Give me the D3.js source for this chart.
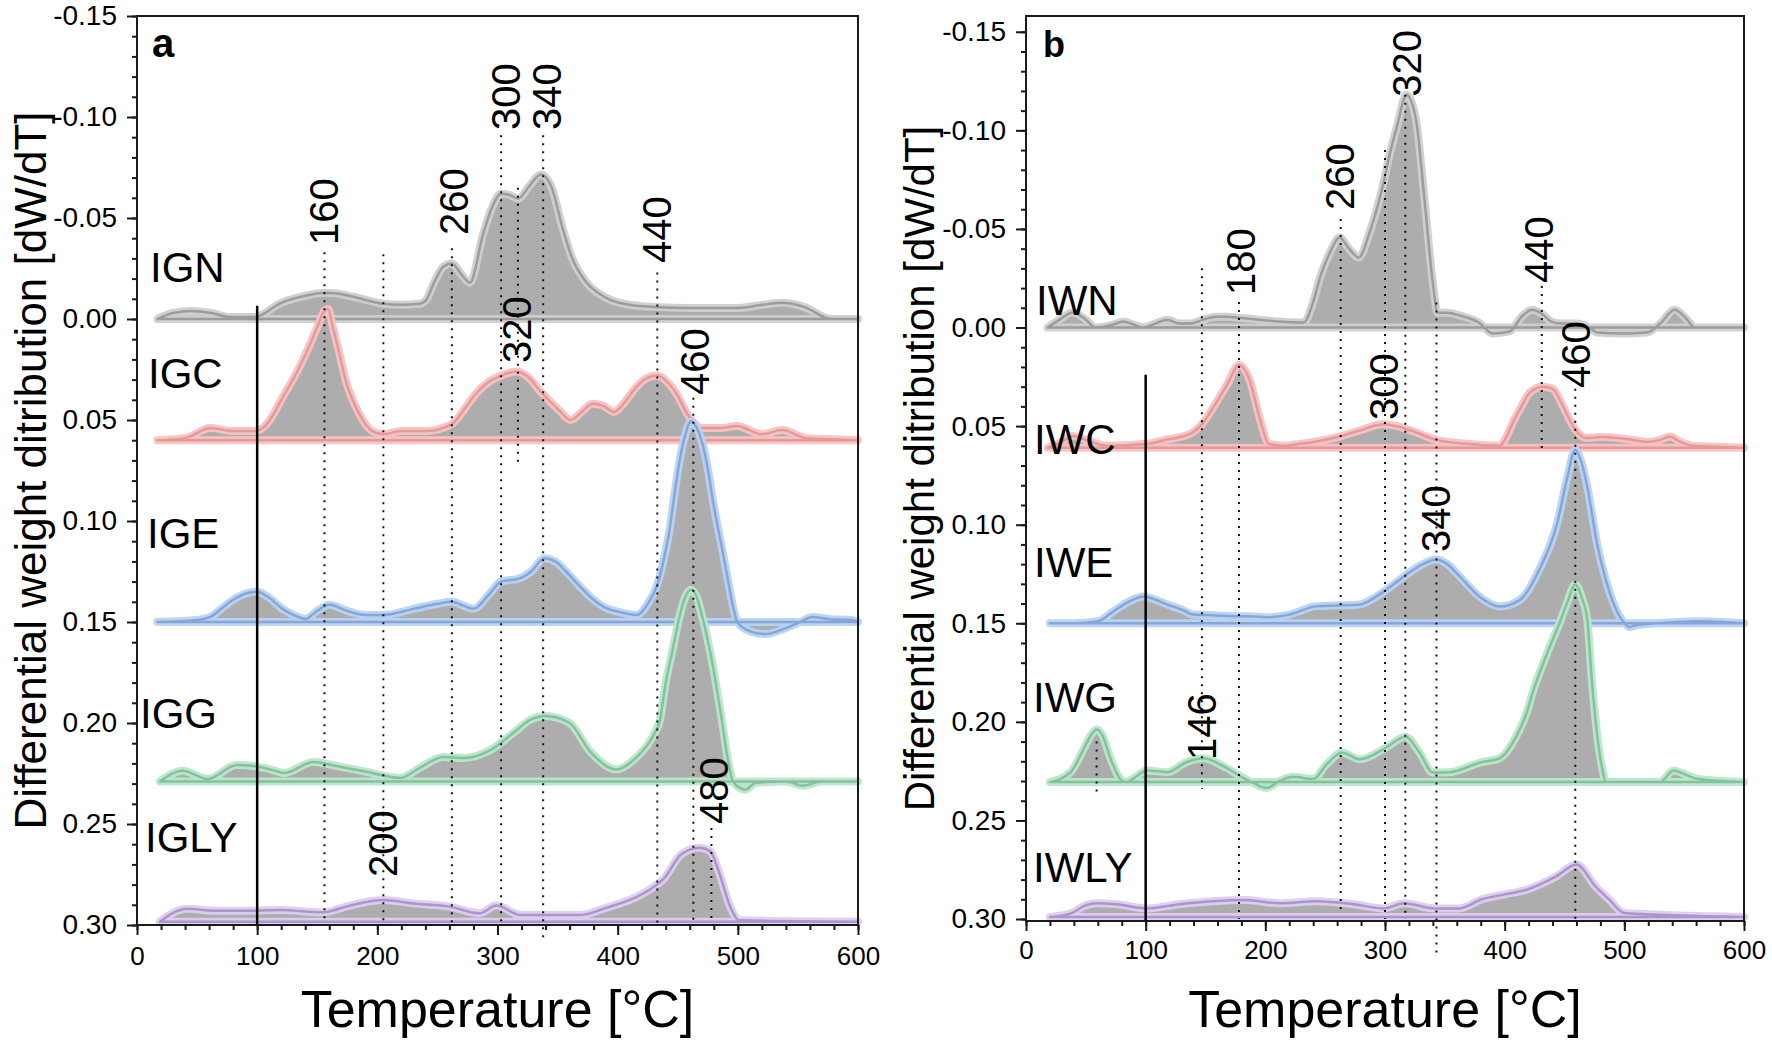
<!DOCTYPE html>
<html>
<head>
<meta charset="utf-8">
<script src="https://cdn.jsdelivr.net/npm/d3@7"></script>
<style>
  body { margin: 0; background: #fff; }
  svg { display: block; }
  text { font-family: "Liberation Sans", Arial, sans-serif; fill: #000; }
</style>
</head>
<body>
<svg id="chart" width="1772" height="1049"></svg>
<script>
// ---------------- DATA ----------------
// Axis ticks
const xTickValues = [0, 100, 200, 300, 400, 500, 600];
const xTickLabels = ["0", "100", "200", "300", "400", "500", "600"];
const yTickValues = [-0.15, -0.10, -0.05, 0.00, 0.05, 0.10, 0.15, 0.20, 0.25, 0.30];
const yTickLabels = ["-0.15", "-0.10", "-0.05", "0.00", "0.05", "0.10", "0.15", "0.20", "0.25", "0.30"];

// Panel a series (temperature in °C, y-axis reading in dW/dT incl. offset)
const seriesNamesA = ["IGN", "IGC", "IGE", "IGG", "IGLY"];
const baselinesA = [0, 0.06, 0.15, 0.229, 0.2984];

const tempIGN = [17,30,45,62,77,98,120,140,156,165,180,205,220,235,240,248,255,262,270,277,288,295,303,310,317,327,336,345,354,362,373,390,407,430,460,500,520,537,555,578,600];
const valIGN  = [0,-0.003,-0.004,-0.003,-0.001,-0.001,-0.008,-0.0115,-0.013,-0.0128,-0.011,-0.0075,-0.007,-0.0075,-0.009,-0.019,-0.026,-0.0275,-0.022,-0.018,-0.042,-0.0546,-0.062,-0.0614,-0.0596,-0.0662,-0.0715,-0.0652,-0.0454,-0.0303,-0.0189,-0.0106,-0.0073,-0.006,-0.0055,-0.0055,-0.007,-0.008,-0.006,0,0];

const tempIGC = [17,40,61,80,98,108,121,135,144,150,156,159,163,168,174,185,196,205,220,240,262,272,282,293,303,316,326,336,351,361,370,379,388,397,406,415,425,433,441,449,458,470,485,499,520,537,557,580,600];
const valIGC  = [0.06,0.059,0.054,0.0555,0.0555,0.052,0.039,0.024,0.0124,0.004,-0.004,-0.005,0.004,0.016,0.031,0.047,0.0556,0.057,0.0555,0.0555,0.052,0.045,0.037,0.031,0.028,0.026,0.029,0.036,0.045,0.05,0.046,0.042,0.043,0.046,0.041,0.034,0.029,0.028,0.031,0.037,0.047,0.054,0.054,0.053,0.057,0.055,0.059,0.0595,0.06];

const tempIGE = [17,50,61,70,80,90,100,110,121,132,140,150,160,175,190,205,230,250,262,272,280,292,303,318,328,339,348,357,368,379,390,401,416,425,433,438,443,447,451,456,461,465,470,475,479,483,487,492,497,500,512,523,540,552,562,575,595,600];
const valIGE  = [0.15,0.149,0.1475,0.1435,0.139,0.136,0.135,0.138,0.1435,0.147,0.1485,0.1445,0.1415,0.1445,0.1465,0.1465,0.1435,0.141,0.14,0.142,0.1435,0.137,0.13,0.1285,0.125,0.1185,0.12,0.125,0.132,0.1385,0.143,0.145,0.1465,0.141,0.1315,0.12,0.105,0.088,0.072,0.058,0.0506,0.053,0.0606,0.074,0.089,0.102,0.114,0.13,0.145,0.1505,0.155,0.156,0.153,0.15,0.1475,0.1485,0.149,0.15];

const tempIGG = [19,38,59,83,97,116,122,147,166,188,219,235,255,272,294,313,327,340,360,377,399,415,430,435,440,446,451,456,461,466,470,475,479,486,492,496,506,515,540,554,570,600];
const valIGG  = [0.229,0.2236,0.2277,0.2208,0.2213,0.2238,0.2248,0.2193,0.2213,0.2238,0.2272,0.2223,0.2168,0.2173,0.2134,0.205,0.1985,0.1965,0.2,0.214,0.223,0.2173,0.2058,0.199,0.18,0.163,0.1485,0.138,0.134,0.138,0.1465,0.159,0.171,0.196,0.219,0.229,0.233,0.2296,0.229,0.231,0.229,0.229];

const tempIGLY = [19,30,42,64,97,119,155,177,205,230,260,285,299,319,340,369,391,420,439,453,468,477,484,494,501,600];
const valIGLY  = [0.2984,0.294,0.292,0.2929,0.2929,0.2926,0.2937,0.2904,0.2876,0.2893,0.2909,0.2942,0.2904,0.295,0.295,0.295,0.2914,0.2848,0.2766,0.265,0.2618,0.2634,0.2733,0.2914,0.2977,0.2984];

// Panel b series
const seriesNamesB = ["IWN", "IWC", "IWE", "IWG", "IWLY"];
const baselinesB = [0, 0.061, 0.15, 0.2305, 0.299];

const tempIWN = [18,28,39,50,58,73,81,90,98,108,118,128,137,148,159,168,177,195,212,232,240,246,254,262,270,278,287,298,304,310,318,326,333,340,344,352,363,378,390,404,415,423,431,439,447,460,472,477,500,519,530,542,551,559,600];
const valIWN  = [0,-0.004,-0.0076,-0.004,0,-0.0015,-0.003,-0.0015,0,-0.002,-0.004,-0.002,-0.002,-0.004,-0.0055,-0.0055,-0.005,-0.004,-0.003,-0.0025,-0.013,-0.026,-0.038,-0.0456,-0.04,-0.0355,-0.048,-0.0715,-0.088,-0.102,-0.118,-0.105,-0.065,-0.0226,-0.0075,-0.0075,-0.006,-0.0027,0.003,0.002,-0.006,-0.009,-0.007,-0.003,-0.002,-0.002,0.0005,0.0025,0.003,0.0025,-0.002,-0.009,-0.005,0,0];

const tempIWC = [18,30,39,50,68,101,118,137,147,157,168,178,187,195,203,215,229,245,262,280,298,310,325,343,368,396,401,407,414,421,432,440,446,452,459,468,480,494,507,519,530,538,547,557,575,600];
const valIWC  = [0.061,0.058,0.055,0.057,0.06,0.059,0.0568,0.054,0.049,0.04,0.029,0.019,0.0268,0.0453,0.059,0.06,0.059,0.0575,0.0553,0.052,0.049,0.05,0.053,0.057,0.059,0.06,0.056,0.048,0.04,0.033,0.03,0.031,0.0365,0.044,0.0517,0.056,0.0555,0.056,0.057,0.058,0.057,0.0553,0.058,0.06,0.0605,0.061];

const tempIWE = [20,40,60,73,86,98,108,118,130,140,160,173,190,201,220,243,260,279,290,301,310,318,330,343,352,362,379,396,413,429,444,452,459,464,469,477,485,496,501,504,510,540,560,600];
const valIWE  = [0.15,0.15,0.149,0.144,0.139,0.1364,0.138,0.1405,0.143,0.1456,0.146,0.1464,0.1465,0.147,0.1456,0.1413,0.141,0.1405,0.1375,0.133,0.129,0.1253,0.1205,0.1176,0.12,0.126,0.1365,0.1415,0.138,0.1227,0.099,0.077,0.062,0.068,0.0806,0.109,0.129,0.1465,0.1505,0.152,0.151,0.1495,0.149,0.15];

const tempIWG = [20,37,48,54,59,64,70,80,84,89,101,118,134,148,165,179,190,201,212,223,240,251,264,279,301,317,329,340,353,381,395,410,418,424,435,446,452,459,465,469,473,477,481,485,530,541,552,562,600];
const valIWG  = [0.2305,0.2257,0.214,0.207,0.2039,0.207,0.2175,0.2297,0.2305,0.229,0.2247,0.2255,0.2205,0.2185,0.2225,0.2275,0.231,0.2335,0.23,0.2279,0.229,0.2217,0.2155,0.219,0.213,0.2075,0.2157,0.2257,0.2256,0.2204,0.2187,0.207,0.196,0.184,0.166,0.1496,0.14,0.1303,0.138,0.148,0.18,0.205,0.222,0.2305,0.2305,0.2247,0.227,0.229,0.2305];

const tempIWLY = [20,38,50,59,76,101,128,156,184,212,243,274,299,316,341,362,381,400,419,443,460,476,488,500,600];
const valIWLY  = [0.299,0.297,0.293,0.292,0.2925,0.2946,0.2925,0.291,0.2904,0.292,0.291,0.2925,0.2946,0.292,0.2946,0.2946,0.29,0.2875,0.285,0.2784,0.2724,0.2835,0.2905,0.297,0.299];

// Peak annotations (label text, temperature, y-value where rotated text starts)
const peakLabelsA = ["160", "260", "300", "340", "440", "320", "460", "200", "480"];
const peakTempsA  = [156, 264, 307, 341, 433, 316, 464, 205, 480];
const peakValsA   = [-0.0366, -0.0416, -0.0936, -0.0936, -0.0277, 0.0218, 0.0376, 0.2762, 0.25];

const dropTempsA  = [156, 205, 262, 303, 317, 338, 433, 463, 478];
const dropTopA    = [-0.033, -0.032, -0.035, -0.091, -0.065, -0.091, -0.023, 0.039, 0.252];
const dropBottomA = [0.30, 0.30, 0.30, 0.30, 0.072, 0.309, 0.30, 0.30, 0.298];

const peakLabelsB = ["180", "260", "320", "440", "460", "300", "340", "146"];
const peakTempsB  = [180, 262, 318, 429, 460, 299, 343, 147];
const peakValsB   = [-0.0165, -0.0596, -0.117, -0.0226, 0.0307, 0.0469, 0.1139, 0.2193];

const dropTempsB  = [59, 147, 178, 263, 300, 317, 343, 431, 459];
const dropTopB    = [0.21, -0.030, -0.013, -0.055, -0.090, -0.118, -0.0127, -0.021, 0.031];
const dropBottomB = [0.236, 0.234, 0.30, 0.297, 0.30, 0.30, 0.318, 0.064, 0.30];

// solid marker line at 100 °C
const markerTemp = 100;
const markerTopA = -0.0065;
const markerTopB = 0.024;

// ---------------- STYLE / LAYOUT ----------------
const seriesColors = [
  { halo: "#cfcfcf", line: "#9c9c9c" },
  { halo: "#f8c2c2", line: "#e59a9a" },
  { halo: "#b9d3f3", line: "#86a6d8" },
  { halo: "#bbe6cb", line: "#83c39c" },
  { halo: "#ddcdee", line: "#ab95ca" }
];
const fillGray = "#adadad";

const panels = [
  {
    letter: "a", letterSize: 40, letterX: 152,
    left: 137, right: 858, top: 16, bottom: 925, yDomain: [-0.15, 0.30],
    names: seriesNamesA, bases: baselinesA,
    temps: [tempIGN, tempIGC, tempIGE, tempIGG, tempIGLY],
    vals: [valIGN, valIGC, valIGE, valIGG, valIGLY],
    namePos: [[150, 282], [148, 388], [147, 548], [140, 728], [145, 852]],
    peakLabels: peakLabelsA, peakTemps: peakTempsA, peakVals: peakValsA,
    dropTemps: dropTempsA, dropTop: dropTopA, dropBottom: dropBottomA,
    markerTop: markerTopA,
    yTitleX: 46, yTitleSize: 44, xTickPad: 12
  },
  {
    letter: "b", letterSize: 36, letterX: 1043,
    left: 1026, right: 1744, top: 16, bottom: 921, yDomain: [-0.158, 0.301],
    names: seriesNamesB, bases: baselinesB,
    temps: [tempIWN, tempIWC, tempIWE, tempIWG, tempIWLY],
    vals: [valIWN, valIWC, valIWE, valIWG, valIWLY],
    namePos: [[1036, 315], [1034, 454], [1034, 577], [1033, 712], [1033, 882]],
    peakLabels: peakLabelsB, peakTemps: peakTempsB, peakVals: peakValsB,
    dropTemps: dropTempsB, dropTop: dropTopB, dropBottom: dropBottomB,
    markerTop: markerTopB,
    yTitleX: 934, yTitleSize: 42, xTickPad: 10
  }
];

const svg = d3.select("#chart");

panels.forEach(p => {
  const x = d3.scaleLinear().domain([0, 600]).range([p.left, p.right]);
  const y = d3.scaleLinear().domain(p.yDomain).range([p.top, p.bottom]);
  const g = svg.append("g");

  // series areas
  p.names.forEach((name, i) => {
    const pts = p.temps[i].map((t, j) => [t, p.vals[i][j]]);
    const base = p.bases[i];
    const area = d3.area()
      .x(d => x(d[0]))
      .y0(y(base))
      .y1(d => y(d[1]))
      .curve(d3.curveMonotoneX);
    const path = area(pts);
    const c = seriesColors[i];
    g.append("path").attr("d", path).attr("fill", fillGray).attr("stroke", "none");
    g.append("path").attr("d", path).attr("fill", "none")
      .attr("stroke", c.halo).attr("stroke-width", 8).attr("stroke-linejoin", "round").attr("stroke-opacity", 0.95);
    g.append("path").attr("d", path).attr("fill", "none")
      .attr("stroke", c.line).attr("stroke-width", 2.5).attr("stroke-linejoin", "round");
  });

  // series names
  p.names.forEach((name, i) => {
    g.append("text").attr("x", p.namePos[i][0]).attr("y", p.namePos[i][1])
      .attr("font-size", 42).text(name);
  });

  // dotted drop lines
  p.dropTemps.forEach((t, i) => {
    g.append("line")
      .attr("x1", x(t)).attr("x2", x(t))
      .attr("y1", y(p.dropTop[i])).attr("y2", y(p.dropBottom[i]))
      .attr("stroke", "#111").attr("stroke-width", 2)
      .attr("stroke-dasharray", "2,6");
  });

  // peak labels (rotated)
  p.peakLabels.forEach((lab, i) => {
    const px = x(p.peakTemps[i]), py = y(p.peakVals[i]);
    g.append("text")
      .attr("transform", `translate(${px},${py}) rotate(-90)`)
      .attr("dy", "0.35em")
      .attr("text-anchor", "start")
      .attr("font-size", 40)
      .text(lab);
  });

  // solid marker line at 100°C
  g.append("line")
    .attr("x1", x(markerTemp)).attr("x2", x(markerTemp))
    .attr("y1", y(p.markerTop)).attr("y2", p.bottom)
    .attr("stroke", "#000").attr("stroke-width", 2.5);

  // frame
  g.append("rect")
    .attr("x", p.left).attr("y", p.top)
    .attr("width", p.right - p.left).attr("height", p.bottom - p.top)
    .attr("fill", "none").attr("stroke", "#1a1a1a").attr("stroke-width", 2);

  // y axis
  const yMinor = d3.range(-15, 31).map(d => d / 100);
  const yAxisMinor = d3.axisLeft(y).tickValues(yMinor).tickSize(5).tickSizeOuter(0).tickFormat("");
  const yAxisMajor = d3.axisLeft(y).tickValues(yTickValues).tickSize(10).tickSizeOuter(0).tickPadding(10)
    .tickFormat((d, i) => yTickLabels[i]);
  const ga1 = g.append("g").attr("transform", `translate(${p.left},0)`).call(yAxisMinor);
  const ga2 = g.append("g").attr("transform", `translate(${p.left},0)`).call(yAxisMajor);
  [ga1, ga2].forEach(a => {
    a.select(".domain").remove();
    a.selectAll("line").attr("stroke", "#1a1a1a").attr("stroke-width", 2);
  });
  ga2.selectAll("text").attr("font-size", 28).attr("fill", "#000")
    .style("font-family", "'Liberation Sans', Arial, sans-serif");

  // x axis
  const xMinor = d3.range(0, 601, 20);
  const xAxisMinor = d3.axisBottom(x).tickValues(xMinor).tickSize(5).tickSizeOuter(0).tickFormat("");
  const xAxisMajor = d3.axisBottom(x).tickValues(xTickValues).tickSize(10).tickSizeOuter(0).tickPadding(p.xTickPad)
    .tickFormat((d, i) => xTickLabels[i]);
  const gb1 = g.append("g").attr("transform", `translate(0,${p.bottom})`).call(xAxisMinor);
  const gb2 = g.append("g").attr("transform", `translate(0,${p.bottom})`).call(xAxisMajor);
  [gb1, gb2].forEach(a => {
    a.select(".domain").remove();
    a.selectAll("line").attr("stroke", "#1a1a1a").attr("stroke-width", 2);
  });
  gb2.selectAll("text").attr("font-size", 26).attr("fill", "#000")
    .style("font-family", "'Liberation Sans', Arial, sans-serif");

  // panel letter
  g.append("text").attr("x", p.letterX).attr("y", 57)
    .attr("font-size", p.letterSize).attr("font-weight", "bold").text(p.letter);

  // axis titles
  g.append("text")
    .attr("transform", `translate(${p.yTitleX},${(p.top + p.bottom) / 2}) rotate(-90)`)
    .attr("text-anchor", "middle").attr("font-size", p.yTitleSize)
    .text("Differential weight ditribution [dW/dT]");
  g.append("text")
    .attr("x", (p.left + p.right) / 2).attr("y", 1027)
    .attr("text-anchor", "middle").attr("font-size", 52)
    .text("Temperature [°C]");
});
</script>
</body>
</html>
